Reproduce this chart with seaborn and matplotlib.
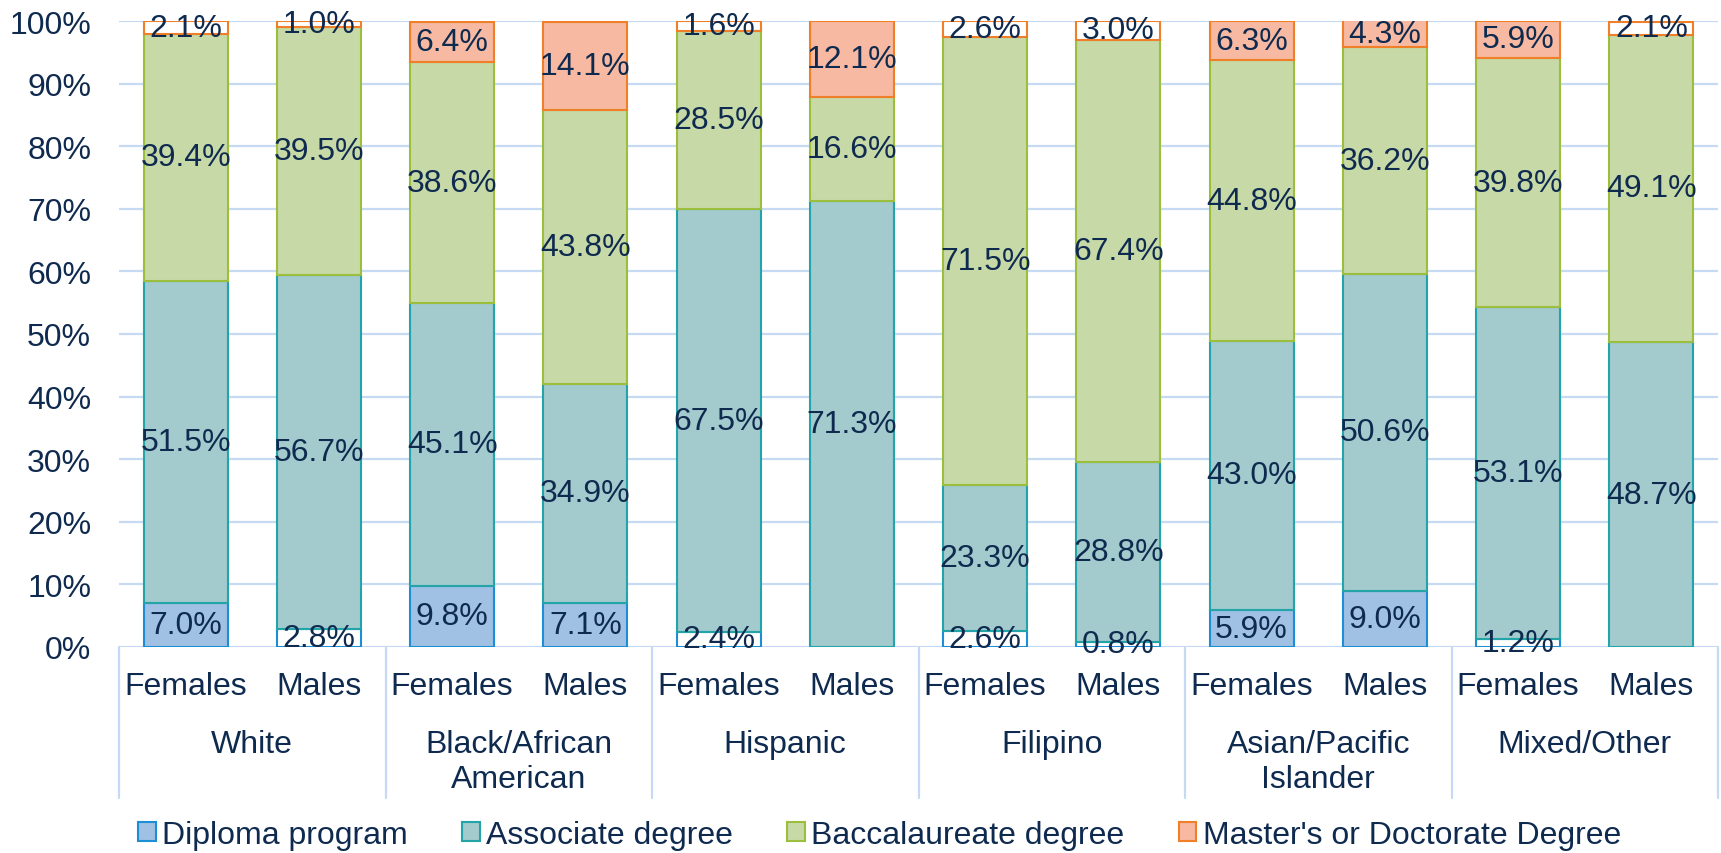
import matplotlib
matplotlib.use("Agg")
import matplotlib.pyplot as plt
from matplotlib.patches import Patch
from matplotlib.lines import Line2D
import seaborn as sns
import pandas as pd
import numpy as np

groups = ["White", "Black/African\nAmerican", "Hispanic", "Filipino",
          "Asian/Pacific\nIslander", "Mixed/Other"]
sexes = ["Females", "Males"]
series_names = ["Diploma program", "Associate degree", "Baccalaureate degree",
                "Master's or Doctorate Degree"]
diploma = [7.0, 2.8, 9.8, 7.1, 2.4, 0.0, 2.6, 0.8, 5.9, 9.0, 1.2, 0.0]
associate = [51.5, 56.7, 45.1, 34.9, 67.5, 71.3, 23.3, 28.8, 43.0, 50.6, 53.1, 48.7]
baccalaureate = [39.4, 39.5, 38.6, 43.8, 28.5, 16.6, 71.5, 67.4, 44.8, 36.2, 39.8, 49.1]
master = [2.1, 1.0, 6.4, 14.1, 1.6, 12.1, 2.6, 3.0, 6.3, 4.3, 5.9, 2.1]
yticks = [0, 10, 20, 30, 40, 50, 60, 70, 80, 90, 100]

fills = ["#A0C1E3", "#A3CACD", "#C7D9A7", "#F7B9A1"]
edges = ["#1B8ED6", "#22A4A8", "#9BBE3C", "#F07F2A"]
TXT = "#0F2A4F"
GRID = "#C6DAF4"

sns.set_theme(style="white")
plt.rcParams["font.family"] = ["Liberation Sans", "DejaVu Sans"]
FS = 23

H = 626
fig = plt.figure(figsize=(17.21, 8.54), dpi=100)
ax = fig.add_axes([119 / 1721, 206 / 854, 1599 / 1721, H / 854])

bar_ids = [f"{g}|{s}" for g in groups for s in sexes]
layers = [diploma, associate, baccalaureate, master]
bottom = np.zeros(len(bar_ids))
for i, vals in enumerate(layers):
    vals = np.array(vals, dtype=float)
    df = pd.DataFrame({"bar": bar_ids, "value": vals})
    n_before = len(ax.patches)
    sns.barplot(data=df, x="bar", y="value", order=bar_ids, color=fills[i],
                saturation=1, width=0.63, bottom=bottom, edgecolor=edges[i],
                linewidth=1.5, ax=ax, zorder=3, errorbar=None)
    patches = ax.patches[n_before:]
    for p, v, b in zip(patches, vals, bottom):
        if v == 0:
            p.set_linewidth(0)
            continue
        if v < 3.5:
            p.set_facecolor("white")
        ax.text(p.get_x() + p.get_width() / 2, b + v / 2, f"{v:.1f}%",
                ha="center", va="center", fontsize=FS, color=TXT, zorder=5)
    bottom = bottom + vals

ax.set_xlim(-0.5, len(bar_ids) - 0.5)
ax.set_ylim(0, 100)
ax.set_yticks(yticks)
ax.set_yticklabels([f"{t}%" for t in yticks], fontsize=FS, color=TXT)
ax.tick_params(axis="y", length=0, pad=20)
ax.set_xticks([])
ax.set_xlabel("")
ax.set_ylabel("")
for s in ["top", "right", "left", "bottom"]:
    ax.spines[s].set_visible(False)
for t in yticks:
    ax.axhline(t, color=GRID, lw=1.6, zorder=1)

# sex labels
for k, bid in enumerate(bar_ids):
    ax.text(k, -39 / H, bid.split("|")[1], transform=ax.get_xaxis_transform(),
            ha="center", va="center", fontsize=FS, color=TXT, clip_on=False)
# group labels
for gi, g in enumerate(groups):
    for li, line in enumerate(g.split("\n")):
        ax.text(2 * gi + 0.5, -(97 + 35 * li) / H, line,
                transform=ax.get_xaxis_transform(), ha="center", va="center",
                fontsize=FS, color=TXT, clip_on=False)
# group separators
for gi in range(len(groups) + 1):
    x = 2 * gi - 0.5
    ax.add_line(Line2D([x, x], [0, -151 / H], transform=ax.get_xaxis_transform(),
                       color=GRID, lw=1.6, clip_on=False, zorder=1))

handles = [Patch(facecolor=fills[i], edgecolor=edges[i], linewidth=1.5)
           for i in range(4)]
fig.legend(handles, series_names, loc="center", bbox_to_anchor=(0.511, 0.021),
           ncol=4, frameon=False, fontsize=FS, labelcolor=TXT,
           handlelength=0.55, handleheight=0.55, handletextpad=0.2,
           columnspacing=1.7, borderpad=0, borderaxespad=0)

fig.savefig("out.png", dpi=100)
